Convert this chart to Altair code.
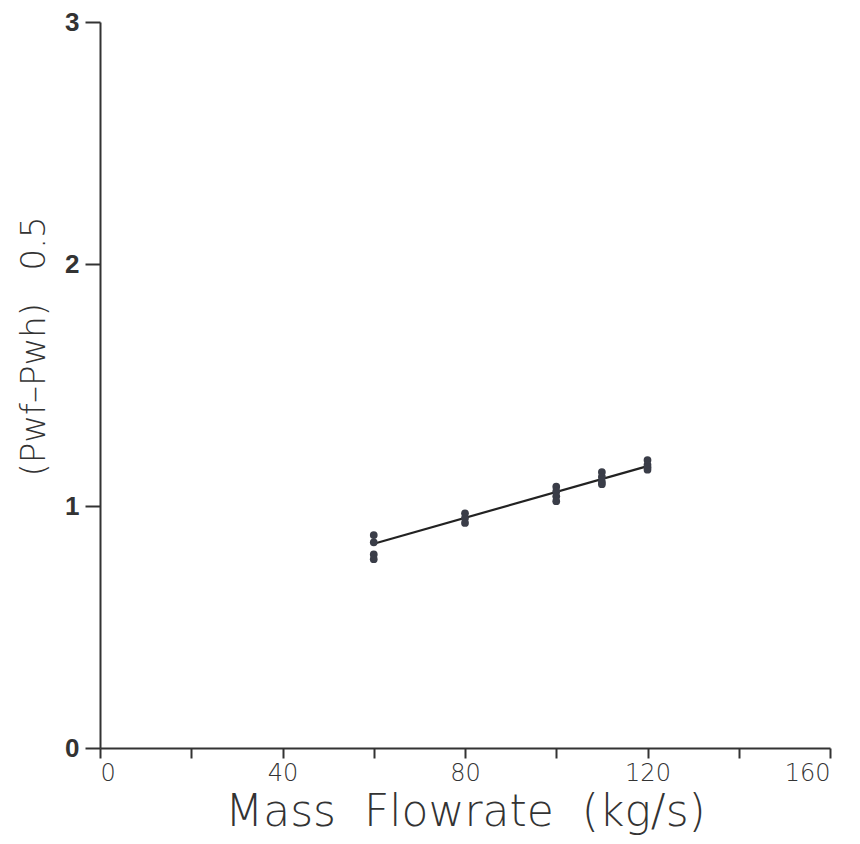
import altair as alt
import pandas as pd

# measured points
flow = [60, 60, 60, 60, 80, 80, 80, 100, 100, 100, 100, 110, 110, 110, 110, 120, 120, 120, 120]
dp = [0.88, 0.85, 0.80, 0.78, 0.97, 0.95, 0.93, 1.08, 1.06, 1.04, 1.02, 1.14, 1.12, 1.10, 1.09, 1.19, 1.17, 1.16, 1.15]

# fitted line endpoints
fit_x = [60, 120]
fit_y = [0.844, 1.165]

x_ticks = [0, 20, 40, 60, 80, 100, 120, 140, 160]
y_ticks = [0, 1, 2, 3]

pts = pd.DataFrame({"x": flow, "y": dp})
fit = pd.DataFrame({"x": fit_x, "y": fit_y})

DJ = "DejaVu Sans"
LIB = "Liberation Sans"
NB = "\u00a0"

xenc = alt.X(
    "x:Q",
    scale=alt.Scale(domain=[0, 160], nice=False, zero=False),
    axis=alt.Axis(
        values=x_ticks,
        labelExpr="datum.value % 40 == 0 ? datum.label : ''",
        title=f"Mass{NB}{NB}Flowrate{NB}{NB}(kg/s)",
        grid=False,
        tickSize=10,
        tickWidth=2,
        domainWidth=2,
        domainColor="#333",
        tickColor="#333",
        labelFont=DJ,
        labelFontSize=24,
        labelFontWeight=200,
        labelColor="#333",
        labelPadding=3,
        titleFont=DJ,
        titleFontSize=44,
        titleFontWeight=200,
        titleColor="#333",
        titleY=77,
        titleBaseline="alphabetic",
    ),
)
yenc = alt.Y(
    "y:Q",
    scale=alt.Scale(domain=[0, 3], nice=False, zero=False),
    axis=alt.Axis(
        values=y_ticks,
        format="d",
        title=f"(Pwf\u2013Pwh){NB}{NB}{NB}0.5",
        grid=False,
        tickSize=15,
        tickWidth=2,
        domainWidth=2,
        domainColor="#333",
        tickColor="#333",
        labelFont=LIB,
        labelFontSize=26,
        labelFontWeight="bold",
        labelColor="#333",
        labelPadding=6,
        titleFont=DJ,
        titleFontSize=34,
        titleFontWeight=200,
        titleColor="#333",
        titleAngle=270,
        titleX=-66,
        titleY=324,
        titleAlign="center",
        titleBaseline="middle",
    ),
)

points = alt.Chart(pts).mark_circle(size=60, color="#3a3d48", opacity=1).encode(x=xenc, y=yenc)
line = alt.Chart(fit).mark_line(color="#222", strokeWidth=2.2).encode(x="x:Q", y="y:Q")

chart = (
    alt.layer(line, points)
    .properties(
        width=730,
        height=726,
        background="white",
        autosize=alt.AutoSizeParams(type="none"),
        padding={"left": 92, "top": 14, "right": 20, "bottom": 88},
    )
    .configure_view(strokeWidth=0, strokeOpacity=0)
)

chart.save("out.html", embed_options={"renderer": "svg", "actions": False})
